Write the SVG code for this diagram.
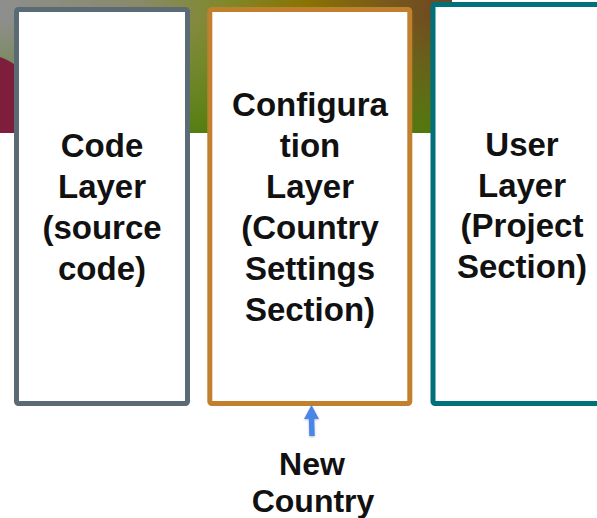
<svg xmlns="http://www.w3.org/2000/svg" width="597" height="518" viewBox="0 0 597 518">
  <defs>
    <linearGradient id="bgH" x1="0" y1="0" x2="1" y2="0">
      <stop offset="0" stop-color="#8e8e8e"/>
      <stop offset="0.3" stop-color="#8a8a6a"/>
      <stop offset="0.5" stop-color="#80882a"/>
      <stop offset="0.68" stop-color="#8a7204"/>
      <stop offset="0.85" stop-color="#7a5a1a"/>
      <stop offset="1" stop-color="#6a4624"/>
    </linearGradient>
    <linearGradient id="bgV" x1="0" y1="0" x2="0" y2="1">
      <stop offset="0.15" stop-color="#5c8a10" stop-opacity="0"/>
      <stop offset="1" stop-color="#4f7c0c" stop-opacity="0.9"/>
    </linearGradient>
    <filter id="sh" x="-50%" y="-50%" width="200%" height="200%">
      <feDropShadow dx="0" dy="1" stdDeviation="1" flood-color="#000" flood-opacity="0.25"/>
    </filter>
    <style>
      .box { fill: #ffffff; stroke-width: 5; }
      .lbl { font-family: "Liberation Sans", Arial, sans-serif; font-weight: bold; font-size: 33px; fill: #111111; text-anchor: middle; }
      .sm { font-size: 32px; }
    </style>
  </defs>

  <g id="background">
    <rect x="0" y="0" width="452" height="133" fill="url(#bgH)"/>
    <rect x="0" y="0" width="452" height="133" fill="url(#bgV)"/>
    <path d="M0,57 Q9,60 18,67 L18,133 L0,133 Z" fill="#7d1e3c"/>
  </g>

  <g id="code-layer">
    <rect class="box" x="16.5" y="9.5" width="171" height="394" rx="2" stroke="#5a6b76"/>
    <text class="lbl" x="102" y="157">Code</text>
    <text class="lbl" x="102" y="198">Layer</text>
    <text class="lbl" x="102" y="239">(source</text>
    <text class="lbl" x="102" y="280">code)</text>
  </g>

  <g id="configuration-layer">
    <rect class="box" x="209.8" y="9.5" width="200" height="394" rx="2" stroke="#c0802e"/>
    <text class="lbl" x="310" y="116">Configura</text>
    <text class="lbl" x="310" y="157">tion</text>
    <text class="lbl" x="310" y="198">Layer</text>
    <text class="lbl" x="310" y="239">(Country</text>
    <text class="lbl" x="310" y="280">Settings</text>
    <text class="lbl" x="310" y="321">Section)</text>
  </g>

  <g id="user-layer">
    <rect class="box" x="433" y="4.5" width="200" height="399" rx="2" stroke="#00707a"/>
    <text class="lbl" x="522" y="156">User</text>
    <text class="lbl" x="522" y="197">Layer</text>
    <text class="lbl" x="522" y="237">(Project</text>
    <text class="lbl" x="522" y="278">Section)</text>
  </g>

  <g id="new-country">
    <text class="lbl sm" x="312" y="475">New</text>
    <text class="lbl sm" x="313" y="512">Country</text>
  </g>

  <g id="connectors">
    <g filter="url(#sh)">
      <line x1="312" y1="436" x2="311.5" y2="417" stroke="#4a86e8" stroke-width="5.5"/>
      <polygon points="311.5,405 319,419 304,419" fill="#4a86e8"/>
    </g>
  </g>
</svg>
